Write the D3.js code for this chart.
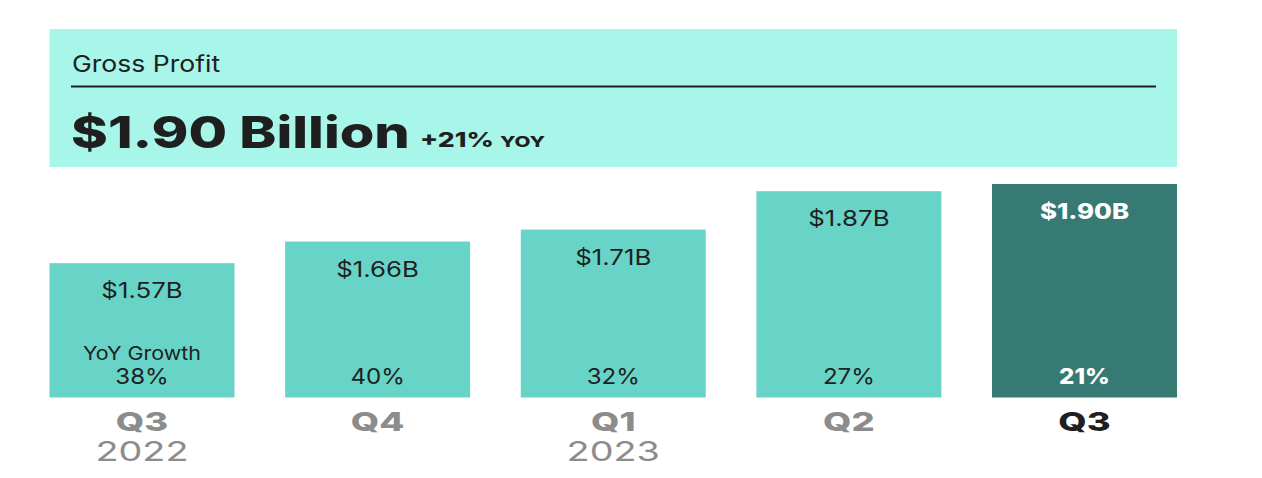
<!DOCTYPE html>
<html>
<head>
<meta charset="utf-8">
<script src="https://cdn.jsdelivr.net/npm/d3@7"></script>
<style>
  html, body { margin: 0; padding: 0; background: #ffffff; }
  svg { display: block; }
  text { font-family: Inter, "Noto Sans", sans-serif; }
</style>
</head>
<body>
<svg id="chart" width="1262" height="478"></svg>
<script>
// ---- data ----
const categories = ["Q3", "Q4", "Q1", "Q2", "Q3"];
const years = ["2022", "", "2023", "", ""];
const values = [1.57, 1.66, 1.71, 1.87, 1.90];
const valueLabels = ["$1.57B", "$1.66B", "$1.71B", "$1.87B", "$1.90B"];
const growth = ["38%", "40%", "32%", "27%", "21%"];
const titleText = "Gross Profit";
const headlineText = "$1.90 Billion";
const headlineGrowth = "+21%";
const headlineSuffix = "YOY";
const growthCaption = "YoY Growth";

// ---- layout ----
const W = 1262, H = 478;
const left = 49.5, right = 1177, base = 397.5;
const svg = d3.select("#chart");

const x = d3.scaleBand().domain(d3.range(values.length)).range([left, right]).paddingInner(0.215).paddingOuter(0);
const y = d3.scaleLinear().domain([1.01, 1.90]).range([base, 184]);

const lastIdx = values.length - 1;
const lightBar = "#67d4c7", darkBar = "#367a73", ink = "#1f1f1f", gray = "#8c8c8c";

function stretch(sel, factor) {
  sel.each(function() {
    const w = this.getComputedTextLength();
    if (w > 0) d3.select(this).attr("textLength", w * factor).attr("lengthAdjust", "spacingAndGlyphs");
  });
  return sel;
}

// header panel
svg.append("rect").attr("x", left).attr("y", 29).attr("width", right - left).attr("height", 138).attr("fill", "#a8f5ea");
svg.append("text").attr("x", 72).attr("y", 72).attr("font-size", 22.5).attr("fill", ink).text(titleText)
  .call(stretch, 1.18);
svg.append("line").attr("x1", 71).attr("x2", 1156).attr("y1", 86.5).attr("y2", 86.5).attr("stroke", ink).attr("stroke-width", 2);
svg.append("text").attr("x", 71).attr("y", 147.5).attr("font-size", 44).attr("font-weight", 800).attr("fill", ink)
  .text(headlineText).call(stretch, 1.27);
svg.append("text").attr("x", 420).attr("y", 147).attr("font-size", 20).attr("font-weight", 800).attr("fill", ink)
  .text(headlineGrowth).call(stretch, 1.33);
svg.append("text").attr("x", 500).attr("y", 147).attr("font-size", 15).attr("font-weight", 800).attr("fill", ink)
  .text(headlineSuffix).call(stretch, 1.38);

// bars
const g = svg.append("g");
g.selectAll("rect.bar").data(values).join("rect").attr("class", "bar")
  .attr("x", (d, i) => x(i)).attr("width", x.bandwidth())
  .attr("y", d => y(d)).attr("height", d => base - y(d))
  .attr("fill", (d, i) => i === lastIdx ? darkBar : lightBar);

// value labels
g.selectAll("text.val").data(values).join("text").attr("class", "val")
  .attr("x", (d, i) => x(i) + x.bandwidth() / 2).attr("y", d => y(d) + 35)
  .attr("text-anchor", "middle").attr("font-size", 21.5)
  .attr("font-weight", (d, i) => i === lastIdx ? 800 : 400)
  .attr("fill", (d, i) => i === lastIdx ? "#ffffff" : ink)
  .text((d, i) => valueLabels[i]).call(stretch, 1.2);

// growth labels
g.selectAll("text.gr").data(growth).join("text").attr("class", "gr")
  .attr("x", (d, i) => x(i) + x.bandwidth() / 2).attr("y", 384)
  .attr("text-anchor", "middle").attr("font-size", 21.5)
  .attr("font-weight", (d, i) => i === lastIdx ? 800 : 400)
  .attr("fill", (d, i) => i === lastIdx ? "#ffffff" : ink)
  .text(d => d).call(stretch, 1.12);

g.append("text").attr("x", x(0) + x.bandwidth() / 2).attr("y", 360).attr("text-anchor", "middle")
  .attr("font-size", 19).attr("fill", ink).text(growthCaption).call(stretch, 1.13);

// category axis labels
g.selectAll("text.cat").data(categories).join("text").attr("class", "cat")
  .attr("x", (d, i) => x(i) + x.bandwidth() / 2).attr("y", 431)
  .attr("text-anchor", "middle").attr("font-size", 26).attr("font-weight", 800)
  .attr("fill", (d, i) => i === lastIdx ? ink : gray)
  .text(d => d).call(stretch, 1.4);

g.selectAll("text.yr").data(years).join("text").attr("class", "yr")
  .attr("x", (d, i) => x(i) + x.bandwidth() / 2).attr("y", 460.5)
  .attr("text-anchor", "middle").attr("font-size", 27).attr("font-weight", 400)
  .attr("fill", gray)
  .text(d => d).call(stretch, 1.4);
</script>
</body>
</html>
